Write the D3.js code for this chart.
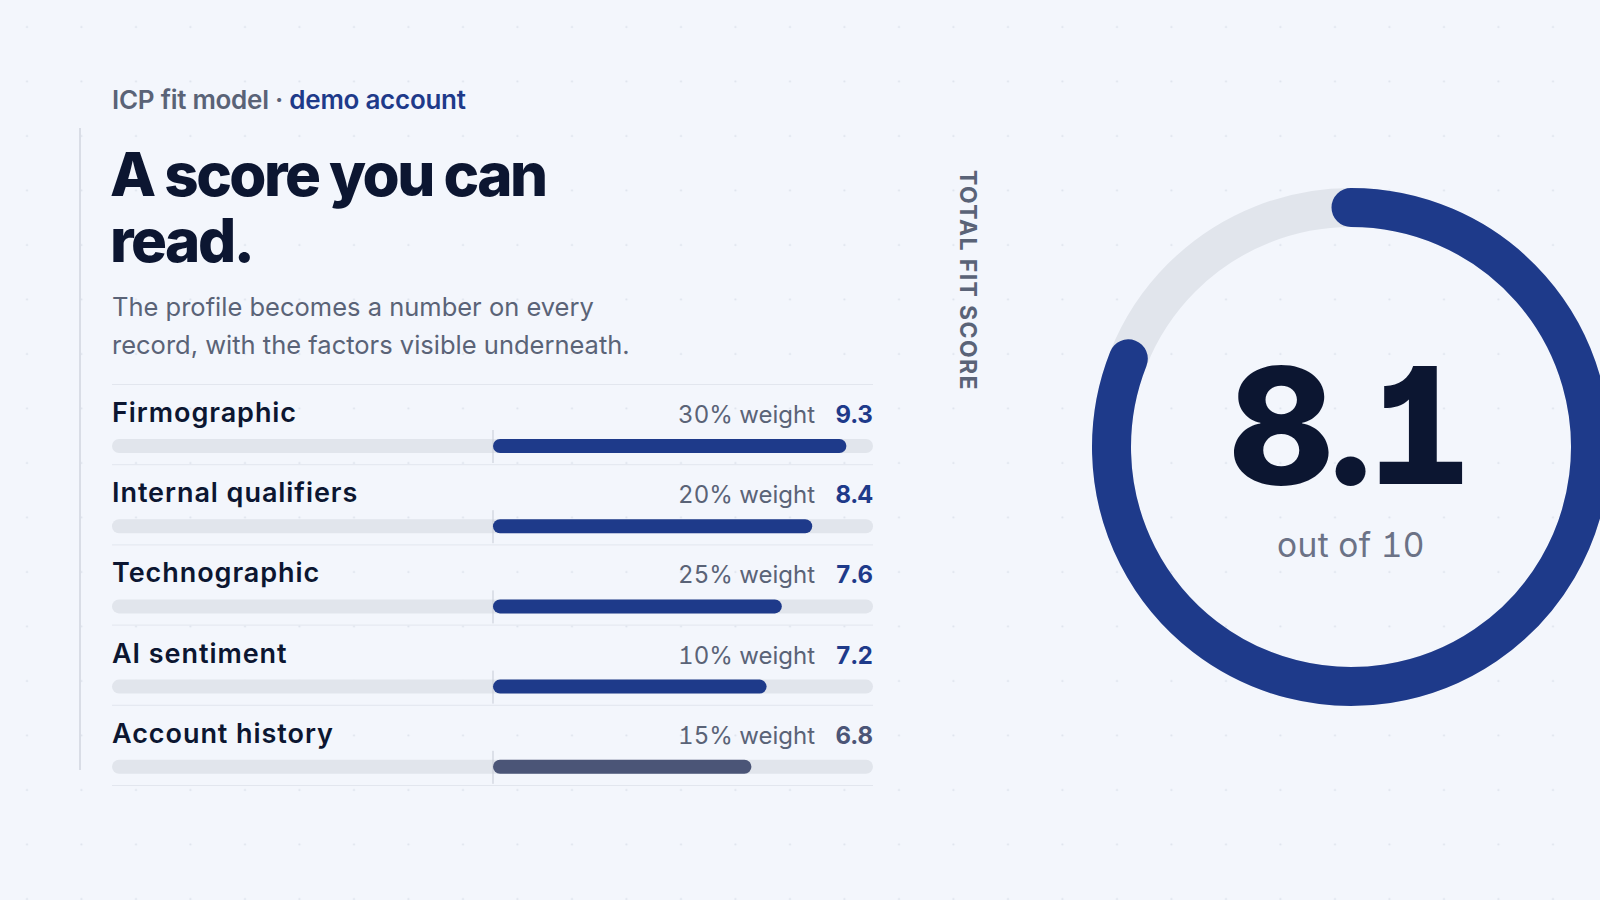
<!DOCTYPE html>
<html>
<head>
<meta charset="utf-8">
<script src="https://cdn.jsdelivr.net/npm/d3@7/dist/d3.min.js"></script>
<style>
  html, body { margin: 0; padding: 0; background: #f3f6fc; }
  svg { display: block; font-family: Inter, "Noto Sans", sans-serif; }
  .num { font-feature-settings: "cv01", "tnum"; }
</style>
</head>
<body>
<svg id="chart" width="1600" height="900"></svg>
<script>
// ---- data ----
const eyebrowMain = "ICP fit model";
const eyebrowAccent = "demo account";
const titleLines = ["A score you can", "read."];
const subtitleLines = ["The profile becomes a number on every", "record, with the factors visible underneath."];
const factors = ["Firmographic", "Internal qualifiers", "Technographic", "AI sentiment", "Account history"];
const weights = [30, 20, 25, 10, 15];
const scores = [9.3, 8.4, 7.6, 7.2, 6.8];
const totalScore = 8.1;
const maxScore = 10;
const gaugeLabel = "TOTAL FIT SCORE";
const gaugeSub = "out of 10";

// ---- styles ----
const C = {
  bg: "#f3f6fc", dot: "#dde2ec", ink: "#0c1631", muted: "#5a6377", blue: "#1e3a8a",
  slate: "#4b5577", track: "#e1e5ec", rule: "#e2e6ee", marker: "#c5cad5", sub: "#6b7286"
};

const svg = d3.select("#chart");
const W = 1600, H = 900;

// dotted background
const defs = svg.append("defs");
const pat = defs.append("pattern").attr("id", "dots").attr("patternUnits", "userSpaceOnUse")
  .attr("width", 54.5).attr("height", 54.5);
pat.append("circle").attr("cx", 27).attr("cy", 27).attr("r", 1.1).attr("fill", C.dot);
svg.append("rect").attr("width", W).attr("height", H).attr("fill", C.bg);
svg.append("rect").attr("width", W).attr("height", H).attr("fill", "url(#dots)");

// left accent rule
svg.append("line").attr("x1", 80).attr("x2", 80).attr("y1", 128).attr("y2", 770)
  .attr("stroke", "#d9dde6").attr("stroke-width", 2);

const left = 112;

// eyebrow
const eb = svg.append("text").attr("x", left).attr("y", 109)
  .attr("font-size", 26).attr("font-weight", 600).attr("letter-spacing", "-0.01em");
eb.append("tspan").attr("fill", C.muted).text(eyebrowMain + " · ");
eb.append("tspan").attr("fill", C.blue).text(eyebrowAccent);

// title
svg.append("g").selectAll("text").data(titleLines).join("text")
  .attr("x", left - 2).attr("y", (d, i) => 196 + i * 66)
  .attr("font-size", 60).attr("font-weight", 800).attr("letter-spacing", "-0.042em")
  .attr("fill", C.ink).text(d => d);

// subtitle
svg.append("g").selectAll("text").data(subtitleLines).join("text")
  .attr("x", left).attr("y", (d, i) => 316 + i * 37.5)
  .attr("font-size", 25.5).attr("font-weight", 400)
  .attr("fill", C.muted).text(d => d);

// ---- factor rows ----
const rowRight = 873;
const y = d3.scaleBand().domain(factors).range([384, 785]).paddingInner(0).paddingOuter(0);
const x = d3.scaleLinear().domain([0, maxScore]).range([493, rowRight]);
const trackH = 14;

const rows = svg.append("g").selectAll("g").data(factors.map((f, i) => ({ f, w: weights[i], s: scores[i] })))
  .join("g").attr("transform", d => `translate(0,${y(d.f)})`);

// separators (top of each row) + final bottom
rows.append("line").attr("x1", left).attr("x2", rowRight).attr("y1", 0.5).attr("y2", 0.5)
  .attr("stroke", C.rule).attr("stroke-width", 1);
svg.append("line").attr("x1", left).attr("x2", rowRight)
  .attr("y1", y.range()[1] + 0.5).attr("y2", y.range()[1] + 0.5)
  .attr("stroke", C.rule).attr("stroke-width", 1);

rows.append("text").attr("x", left).attr("y", 38)
  .attr("font-size", 27).attr("font-weight", 600).attr("letter-spacing", "0.035em")
  .attr("fill", C.ink).text(d => d.f);

rows.append("text").attr("class", "num").attr("x", rowRight).attr("y", 39).attr("text-anchor", "end")
  .attr("font-size", 24).attr("font-weight", 700).attr("fill", d => d.s >= 7 ? C.blue : C.slate)
  .text(d => d3.format(".1f")(d.s));

rows.append("text").attr("class", "num").attr("x", rowRight - 58).attr("y", 39).attr("text-anchor", "end")
  .attr("font-size", 24).attr("font-weight", 400).attr("fill", C.muted)
  .text(d => `${d.w}% weight`);

rows.append("rect").attr("x", left).attr("width", rowRight - left)
  .attr("y", 55).attr("height", trackH).attr("rx", trackH / 2).attr("fill", C.track);

rows.append("line").attr("x1", x(0)).attr("x2", x(0)).attr("y1", 46).attr("y2", 79)
  .attr("stroke", C.marker).attr("stroke-width", 1);

rows.append("rect").attr("x", x(0)).attr("width", d => x(d.s) - x(0))
  .attr("y", 55).attr("height", trackH).attr("rx", trackH / 2)
  .attr("fill", d => d.s >= 7 ? C.blue : C.slate);

// ---- gauge ----
const cx = 1351, cy = 447, r = 239.5, sw = 39;
const ang = d3.scaleLinear().domain([0, maxScore]).range([-Math.PI / 2, Math.PI * 1.5]);

svg.append("circle").attr("cx", cx).attr("cy", cy).attr("r", r)
  .attr("fill", "none").attr("stroke", C.track).attr("stroke-width", sw);

const p = d3.path();
p.arc(cx, cy, r, ang(0), ang(totalScore), false);
svg.append("path").attr("d", p.toString()).attr("fill", "none")
  .attr("stroke", C.blue).attr("stroke-width", sw).attr("stroke-linecap", "round");

svg.append("text").attr("class", "num").attr("x", cx - 3).attr("y", 484).attr("text-anchor", "middle")
  .attr("font-size", 162).attr("font-weight", 800).attr("letter-spacing", "-0.03em")
  .attr("fill", C.ink).text(d3.format(".1f")(totalScore));

svg.append("text").attr("class", "num").attr("x", cx).attr("y", 557).attr("text-anchor", "middle")
  .attr("font-size", 33.5).attr("font-weight", 400).attr("letter-spacing", "0.01em")
  .attr("fill", C.sub).text(gaugeSub);

svg.append("text").attr("transform", "translate(960,170) rotate(90)")
  .attr("font-size", 23).attr("font-weight", 700).attr("letter-spacing", "0.06em")
  .attr("fill", C.muted).text(gaugeLabel);
</script>
</body>
</html>
